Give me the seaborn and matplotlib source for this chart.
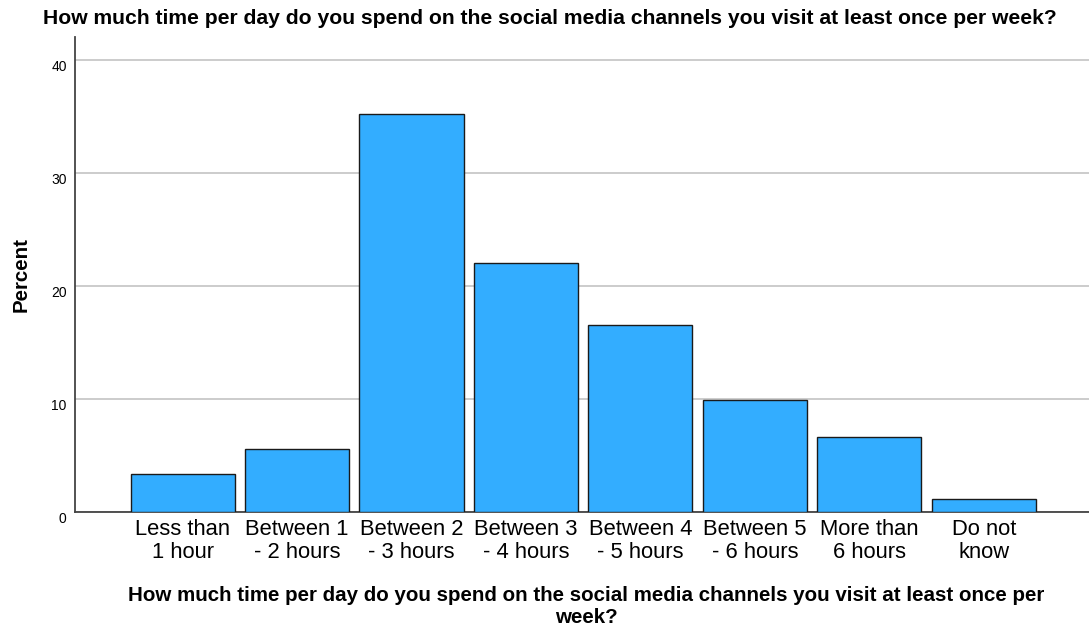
import matplotlib
matplotlib.use('Agg')
import matplotlib.pyplot as plt
import seaborn as sb
import pandas as pd

# categorie e percentuali
categories = ['Less than\n1 hour', 'Between 1\n- 2 hours', 'Between 2\n- 3 hours', 'Between 3\n- 4 hours',
              'Between 4\n- 5 hours', 'Between 5\n- 6 hours', 'More than\n6 hours', 'Do not\nknow']
percent = [3.35, 5.6, 35.2, 22.0, 16.55, 9.9, 6.65, 1.15]
yticks = [0, 10, 20, 30, 40]

question = 'How much time per day do you spend on the social media channels you visit at least once per week?'
xlabel = 'How much time per day do you spend on the social media channels you visit at least once per\nweek?'

df = pd.DataFrame({'Time': categories, 'Percent': percent})

sb.set_style('white')
plt.rcParams['font.family'] = ['Liberation Sans', 'DejaVu Sans']
plt.rcParams['text.color'] = 'black'
plt.rcParams['axes.labelcolor'] = 'black'
plt.rcParams['xtick.color'] = 'black'
plt.rcParams['ytick.color'] = 'black'

fig = plt.figure(figsize=(10.89, 6.25), dpi=100)
ax = fig.add_axes([0.0689, 0.1808, 0.9311, 0.76])
sb.barplot(x='Time', y='Percent', data=df, color='#33adff', saturation=1, width=0.91,
           edgecolor='#1a1a1a', linewidth=1, ax=ax, zorder=3)

ax.set_ylim(0, 42)
ax.set_xlim(-0.94, 7.92)
ax.set_yticks(yticks)
ax.set_yticklabels([str(t) for t in yticks], fontsize=10)
ax.tick_params(axis='y', length=0, pad=6)
ax.tick_params(axis='x', length=0, labelsize=15.8, pad=5)
for lab in ax.get_yticklabels():
    lab.set_verticalalignment('top')
for lab in ax.get_xticklabels():
    lab.set_linespacing(1.13)
ax.grid(axis='y', color='#c4c4c4', linewidth=1.2, zorder=0)
for s in ['top', 'right']:
    ax.spines[s].set_visible(False)
for s in ['left', 'bottom']:
    ax.spines[s].set_color('#444444')
    ax.spines[s].set_linewidth(1.3)

ax.set_ylabel('Percent', fontsize=14.8, fontweight='bold', va='center')
ax.yaxis.set_label_coords(-0.053, 0.5)
ax.set_xlabel(xlabel, fontsize=14.8, fontweight='bold', va='center', linespacing=1.2)
ax.xaxis.set_label_coords(0.504, -0.198)
fig.suptitle(question, fontsize=15.2, fontweight='bold', x=0.5046, y=0.97, va='center')

fig.savefig('out.png', dpi=100)
